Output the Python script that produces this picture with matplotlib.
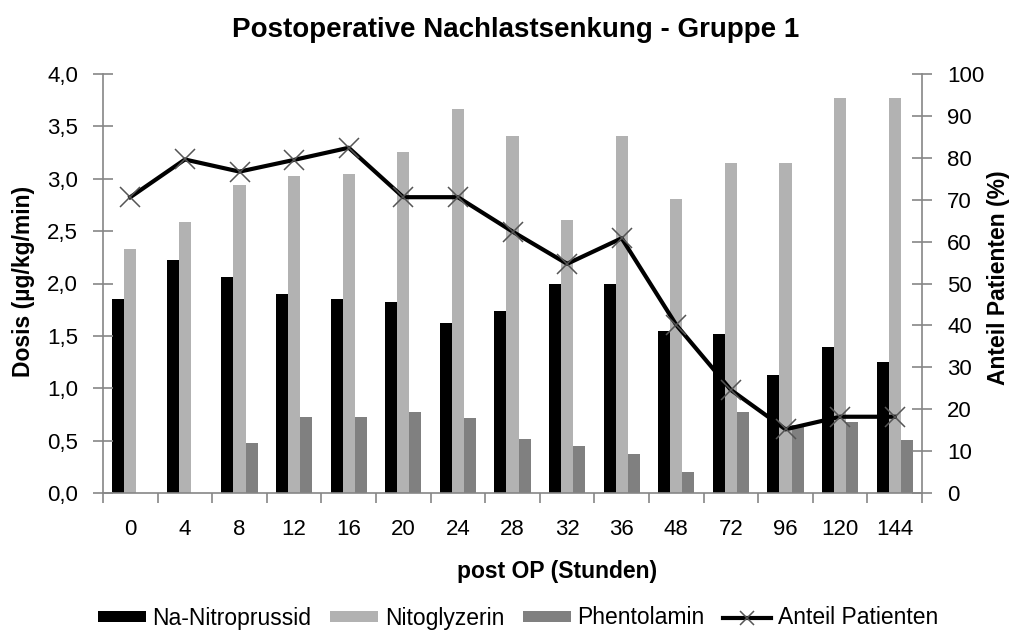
import numpy as np
import matplotlib.pyplot as plt
from matplotlib.ticker import FuncFormatter, MultipleLocator

plt.rcParams['font.family'] = ['Liberation Sans', 'DejaVu Sans']

# Daten
stunden = ['0', '4', '8', '12', '16', '20', '24', '28', '32', '36', '48', '72', '96', '120', '144']
nitroprussid = [1.85, 2.22, 2.06, 1.90, 1.85, 1.82, 1.62, 1.74, 2.00, 2.00, 1.55, 1.52, 1.13, 1.39, 1.25]
nitroglyzerin = [2.33, 2.59, 2.94, 3.03, 3.05, 3.26, 3.67, 3.41, 2.61, 3.41, 2.81, 3.15, 3.15, 3.77, 3.77]
phentolamin = [0, 0, 0.48, 0.73, 0.73, 0.77, 0.72, 0.52, 0.45, 0.37, 0.20, 0.77, 0.65, 0.68, 0.51]
anteil = [70.6, 79.6, 76.7, 79.5, 82.4, 70.6, 70.6, 62.4, 54.7, 60.8, 40.1, 24.6, 15.2, 18.2, 18.2]

achse = '#868686'
fs = 16
fig = plt.figure(figsize=(10.11, 6.31), dpi=100)
ax = fig.add_axes([103 / 1011, 1 - 493 / 631, 819 / 1011, 419 / 631])
ax2 = ax.twinx()

x = np.arange(len(stunden))
w = 0.22
ax.bar(x - w, nitroprussid, w, color='black', label='Na-Nitroprussid')
ax.bar(x, nitroglyzerin, w, color='#b2b2b2', label='Nitoglyzerin')
ax.bar(x + w, phentolamin, w, color='#808080', label='Phentolamin')
ax2.plot(x, anteil, color='black', lw=3, marker='x', markersize=15,
         markeredgecolor='#555555', markeredgewidth=1.1, label='Anteil Patienten')

ax.set_xlim(-0.5, len(stunden) - 0.5)
ax.set_ylim(0, 4)
ax2.set_ylim(0, 100)
ax.yaxis.set_major_locator(MultipleLocator(0.5))
ax2.yaxis.set_major_locator(MultipleLocator(10))
ax.yaxis.set_major_formatter(FuncFormatter(lambda v, p: f'{v:.1f}'.replace('.', ',')))

ax.set_xticks(x)
ax.set_xticklabels(stunden)
ax.set_xticks(np.arange(-0.5, len(stunden)), minor=True)
ax.tick_params(axis='x', which='major', length=0, labelsize=fs, pad=19)
ax.tick_params(axis='x', which='minor', length=7, width=1.2, color=achse, direction='out')
ax.tick_params(axis='y', labelsize=fs, length=14, width=1.2, color=achse, direction='inout', pad=11)
ax2.tick_params(axis='y', labelsize=fs, length=14, width=1.2, color=achse, direction='inout', pad=11)

for a in (ax, ax2):
    a.spines['top'].set_visible(False)
    for s in ('left', 'right', 'bottom'):
        a.spines[s].set_color(achse)
        a.spines[s].set_linewidth(1.2)
ax.spines['right'].set_visible(False)
ax2.spines['left'].set_visible(False)
ax2.spines['bottom'].set_visible(False)

ax.set_xlabel('post OP (Stunden)', fontsize=16.5, fontweight='bold')
ax.xaxis.set_label_coords(0.554, -0.1885)
ax.xaxis.label.set_va('center')
ax.set_ylabel('Dosis (µg/kg/min)', fontsize=16.5, fontweight='bold')
ax.yaxis.set_label_coords(-0.0976, 0.505)
ax.yaxis.label.set_va('center')
ax2.set_ylabel('Anteil Patienten (%)', fontsize=16.5, fontweight='bold')
ax2.yaxis.set_label_coords(1.094, 0.515)
ax2.yaxis.label.set_va('center')
fig.suptitle('Postoperative Nachlastsenkung - Gruppe 1', fontsize=20, fontweight='bold',
             x=516 / 1011, y=1 - 30 / 631, va='center')

h1, l1 = ax.get_legend_handles_labels()
h2, l2 = ax2.get_legend_handles_labels()
leg = fig.legend(h1 + h2, l1 + l2, loc='center', bbox_to_anchor=(518 / 1011, 1 - 618 / 631), ncol=4,
                 frameon=False, fontsize=16.5, handlelength=2.1, handleheight=0.4,
                 handletextpad=0.3, columnspacing=0.8, borderpad=0)
for line in leg.get_lines():
    line.set_markersize(10)

fig.savefig('out.png', dpi=100)
